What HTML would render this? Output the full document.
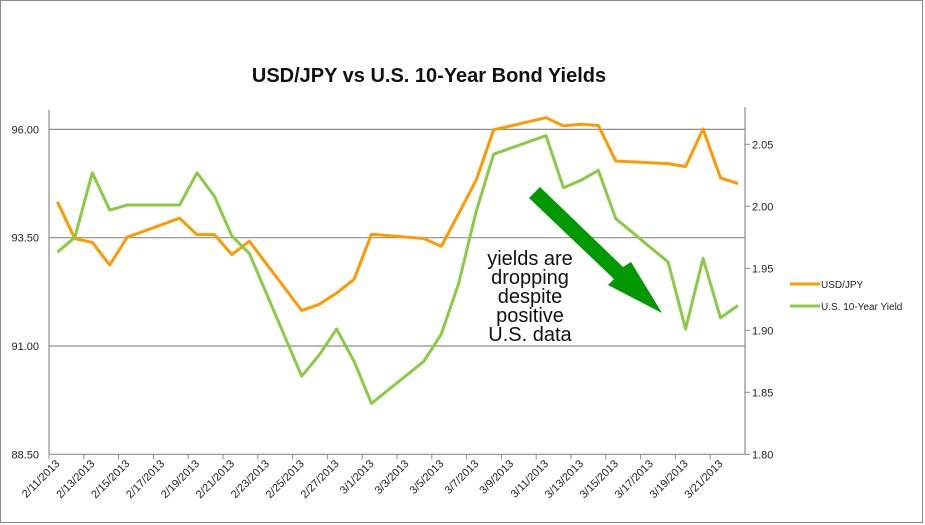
<!DOCTYPE html>
<html><head><meta charset="utf-8"><style>
body{margin:0;background:#fff;}
svg{display:block;font-family:"Liberation Sans",sans-serif;}
</style></head><body>
<svg id="c" width="925" height="525">
<rect x="0.5" y="0.5" width="922" height="522" fill="#fff" stroke="#8a8a8a"/>
<text x="429" y="82" text-anchor="middle" font-size="20" font-weight="bold" fill="#111">USD/JPY vs U.S. 10-Year Bond Yields</text>
<g id="grid"></g><g id="axes"></g><g id="series"></g>
<g font-size="20" fill="#111" text-anchor="middle">
<text x="530" y="265">yields are</text><text x="530" y="284">dropping</text><text x="530" y="303">despite</text><text x="530" y="322">positive</text><text x="530" y="341">U.S. data</text>
</g>
<polygon fill="#009900" points="540,187 623,267 631,262 662,313 608,285 614,279 529,198"/>
<g font-size="10" fill="#222">
<line x1="790" y1="284" x2="820" y2="284" stroke="#ff9900" stroke-width="3"/>
<text x="821" y="288">USD/JPY</text>
<line x1="790" y1="306" x2="820" y2="306" stroke="#88cc44" stroke-width="3"/>
<text x="821" y="310">U.S. 10-Year Yield</text>
</g>
</svg>
<script>
const dayIdx=[0,1,2,3,4,7,8,9,10,11,14,15,16,17,18,21,22,23,24,25,28,29,30,31,32,35,36,37,38,39];
const usdjpy=[94.33,93.48,93.39,92.87,93.51,93.95,93.57,93.57,93.11,93.42,91.82,91.96,92.22,92.54,93.58,93.48,93.30,94.06,94.83,95.99,96.27,96.08,96.12,96.09,95.27,95.21,95.14,96.01,94.88,94.75];
const yields=[1.963,1.975,2.027,1.997,2.001,2.001,2.027,2.008,1.976,1.962,1.863,1.880,1.901,1.875,1.841,1.875,1.897,1.938,1.996,2.042,2.057,2.015,2.021,2.029,1.990,1.955,1.901,1.958,1.910,1.920];
const leftTicks=[88.5,91,93.5,96];
const rightTicks=[1.80,1.85,1.90,1.95,2.00,2.05];
const startDate=[2013,1,11];
const NS="http://www.w3.org/2000/svg";
const X0=49,X1=745,YB=454.3,YT=110;
const xd=d=>57.4+d*17.45;
const yl=v=>454.3-(v-88.5)*43.32;
const yr=v=>454.3-(v-1.8)*1240;
function mk(t,a,p){const e=document.createElementNS(NS,t);for(const k in a)e.setAttribute(k,a[k]);p.appendChild(e);return e;}
const grid=document.getElementById('grid'),axes=document.getElementById('axes'),ser=document.getElementById('series');
leftTicks.forEach(v=>{
 if(v>88.5){const g=mk('line',{x1:X0,x2:X1,y1:yl(v),y2:yl(v),stroke:'#8c8c8c','stroke-width':1.2},grid);
 
 }
 const t=mk('text',{x:39,y:yl(v)+4,'text-anchor':'end','font-size':11,fill:'#222'},axes);t.textContent=v.toFixed(2);
 
 
});
rightTicks.forEach(v=>{
 mk('line',{x1:X1,x2:X1+5,y1:yr(v),y2:yr(v),stroke:'#8c8c8c'},axes);
 const t=mk('text',{x:752,y:yr(v)+4,'font-size':11,fill:'#222'},axes);t.textContent=v.toFixed(2);
 
 
});
const la=mk('line',{x1:X0,x2:X0,y1:YT,y2:YB,stroke:'#8c8c8c','stroke-width':1.2},axes);


const ra=mk('line',{x1:X1,x2:X1,y1:107,y2:YB,stroke:'#8c8c8c','stroke-width':1.2},axes);


const xa=mk('line',{x1:X0,x2:X1,y1:YB,y2:YB,stroke:'#8c8c8c','stroke-width':1.2},axes);


for(let d=0;d<40;d+=2){
 const tx=X0+d*17.4;
 mk('line',{x1:tx,x2:tx,y1:YB,y2:YB+5,stroke:'#8c8c8c'},axes);
 const dt=new Date(startDate[0],startDate[1],startDate[2]+d);
 const x=xd(d)+3,y=YB+10;
 const t=mk('text',{x:x,y:y,'text-anchor':'end','font-size':11,fill:'#222',transform:`rotate(-45 ${x} ${y})`},axes);
 t.textContent=(dt.getMonth()+1)+'/'+dt.getDate()+'/'+dt.getFullYear();
 
 
}
const p1=mk('polyline',{points:dayIdx.map((d,i)=>xd(d)+','+yl(usdjpy[i])).join(' '),fill:'none',stroke:'#ff9900','stroke-width':3,'stroke-linejoin':'round'},ser);


const p2=mk('polyline',{points:dayIdx.map((d,i)=>xd(d)+','+yr(yields[i])).join(' '),fill:'none',stroke:'#88cc44','stroke-width':3,'stroke-linejoin':'round'},ser);


</script>
</body></html>
